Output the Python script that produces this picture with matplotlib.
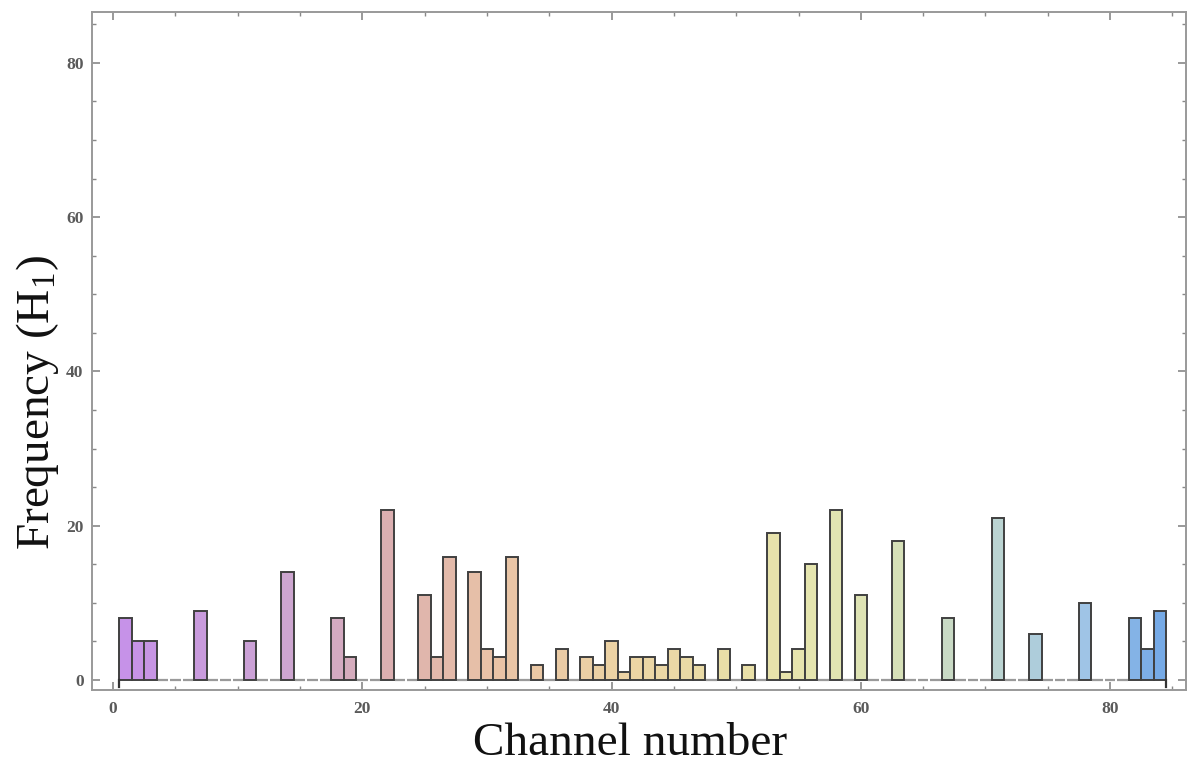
import numpy as np
import matplotlib
matplotlib.use("Agg")
import matplotlib.pyplot as plt
from matplotlib.colors import LinearSegmentedColormap
from matplotlib.ticker import MultipleLocator

# channel number -> frequency (H1), channels 1..84
channels = list(range(1, 85))
freq = [8, 5, 5, 0, 0, 0, 9, 0, 0, 0,
        5, 0, 0, 14, 0, 0, 0, 8, 3, 0,
        0, 22, 0, 0, 11, 3, 16, 0, 14, 4,
        3, 16, 0, 2, 0, 4, 0, 3, 2, 5,
        1, 3, 3, 2, 4, 3, 2, 0, 4, 0,
        2, 0, 19, 1, 4, 15, 0, 22, 0, 11,
        0, 0, 18, 0, 0, 0, 8, 0, 0, 0,
        21, 0, 0, 6, 0, 0, 0, 10, 0, 0,
        0, 8, 4, 9]

xticks = [0, 20, 40, 60, 80]
yticks = [0, 20, 40, 60, 80]

plt.rcParams['font.family'] = ['Liberation Serif', 'DejaVu Serif']
plt.rcParams['mathtext.fontset'] = 'custom'
plt.rcParams['mathtext.rm'] = 'Liberation Serif'
plt.rcParams['mathtext.it'] = 'Liberation Serif:italic'

# pastel gradient purple -> peach -> yellow -> blue
cmap = LinearSegmentedColormap.from_list("pastel", [
    (0.00, "#c692e8"),
    (0.16, "#cda6d0"),
    (0.26, "#dcb0ae"),
    (0.36, "#e9c3a6"),
    (0.48, "#ecd3a4"),
    (0.60, "#e9e0a8"),
    (0.67, "#e5e6b0"),
    (0.75, "#d6e0b8"),
    (0.85, "#b9d3d4"),
    (0.93, "#9fc4e6"),
    (1.00, "#76aae6"),
])

fig = plt.figure(figsize=(11.88, 7.74), dpi=100)
ax = fig.add_axes([0.0774, 0.1085, 0.921, 0.876])

ch = np.array(channels)
fr = np.array(freq)
nz = fr > 0
cols = cmap((ch - ch.min()) / (ch.max() - ch.min()))

ax.bar(ch[nz], fr[nz], width=1.0, color=cols[nz], edgecolor="#404040",
       linewidth=1.4, zorder=3)
# zero-height bars show up as short gray dashes on the baseline
ax.hlines(np.zeros(np.sum(~nz)), ch[~nz] - 0.42, ch[~nz] + 0.42,
          color="#9a9a9a", linewidth=1.6, zorder=2)
# axis origin marks
x0 = ch.min() - 0.5
x1 = ch.max() + 0.5
ax.plot([x0, x0], [0, -0.9], color="#333333", lw=1.6, zorder=4)
ax.plot([x1, x1], [0, -0.9], color="#333333", lw=1.6, zorder=4)

ax.set_xlim(-1.7, 86.1)
ax.set_ylim(-1.3, 86.6)

ax.set_xticks(xticks)
ax.set_yticks(yticks)
ax.xaxis.set_minor_locator(MultipleLocator(5))
ax.yaxis.set_minor_locator(MultipleLocator(5))
ax.tick_params(which="both", direction="in", top=True, right=True,
               color="#888888", labelcolor="#5a5a5a")
ax.tick_params(which="major", length=6, width=1.2)
ax.tick_params(which="minor", length=3, width=1.0)
ax.tick_params(axis="x", pad=8, labelsize=12.5)
ax.tick_params(axis="y", pad=6, labelsize=12.5)
for lab in ax.get_xticklabels() + ax.get_yticklabels():
    lab.set_fontweight("bold")
for s in ax.spines.values():
    s.set_color("#999999")
    s.set_linewidth(1.4)

fig.text(0.53, 0.012, "Channel number", fontsize=34, ha="center", va="bottom",
         color="#111111")
fig.text(0.012, 0.48, "Frequency (H$_1$)", fontsize=34, rotation=90,
         ha="left", va="center", color="#111111")

fig.savefig("out.png", dpi=100)
